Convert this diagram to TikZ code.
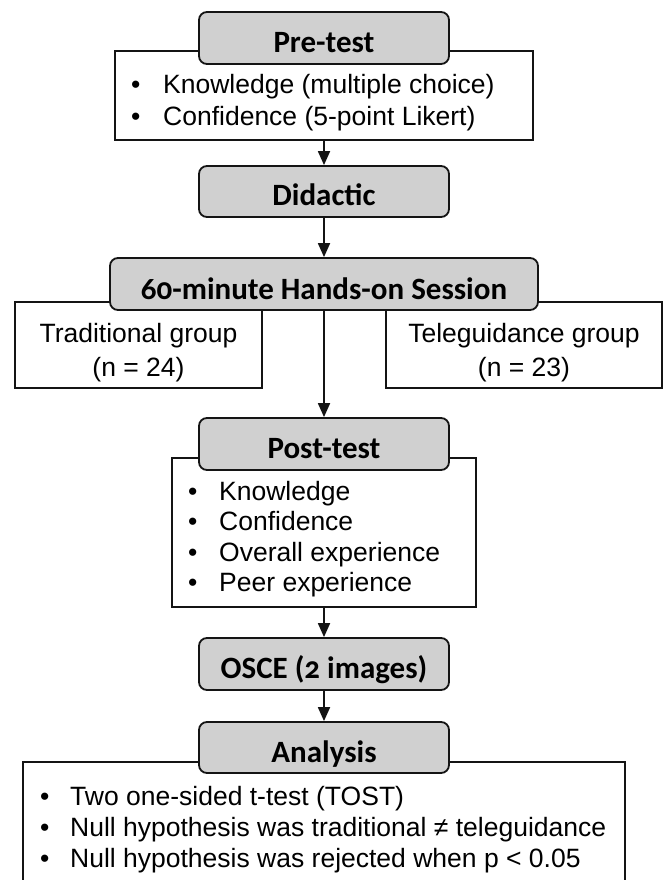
\documentclass[tikz,border=0pt]{standalone}
\usepackage{fontspec}
\setmainfont{Liberation Sans}
\newfontfamily\headfont[Numbers=OldStyle]{Carlito}
\usetikzlibrary{arrows.meta}
\definecolor{boxgray}{RGB}{208,208,208}
\definecolor{lineblack}{RGB}{20,20,20}
\begin{document}
\begin{tikzpicture}[x=1pt,y=-1pt,
  hbox/.style={draw=lineblack, line width=1.8pt, fill=boxgray, rounded corners=8pt, inner sep=0pt},
  wbox/.style={draw=lineblack, line width=1.8pt, fill=white, inner sep=0pt},
  head/.style={font=\headfont\bfseries\fontsize{31}{36}\selectfont, anchor=base, inner sep=0pt},
  body/.style={font=\fontsize{26.5}{31}\selectfont, anchor=base west, inner sep=0pt},
  ctext/.style={font=\fontsize{26.5}{31}\selectfont, anchor=base, inner sep=0pt},
  arr/.style={draw=lineblack, line width=1.8pt, -{Triangle[width=12pt,length=14pt]}}]
\clip (0,0) rectangle (665,880);
\fill[white] (0,0) rectangle (665,880);
% white boxes
\node[wbox, minimum width=418pt, minimum height=89pt] (prew) at (324,95.5) {};
\node[wbox, minimum width=247pt, minimum height=86pt] (trad) at (138.5,345) {};
\node[wbox, minimum width=276pt, minimum height=86pt] (tele) at (524,345) {};
\node[wbox, minimum width=304pt, minimum height=149pt] (postw) at (324,532.5) {};
\node[wbox, minimum width=602pt, minimum height=140pt] (anaw) at (324,832) {};
% gray boxes
\node[hbox, minimum width=250pt, minimum height=52pt] (pre) at (324,38) {};
\node[hbox, minimum width=250pt, minimum height=51pt] (did) at (324,191.5) {};
\node[hbox, minimum width=428pt, minimum height=52pt] (ses) at (324,284) {};
\node[hbox, minimum width=250pt, minimum height=52pt] (post) at (324,444) {};
\node[hbox, minimum width=250pt, minimum height=52pt] (osce) at (324,664) {};
\node[hbox, minimum width=250pt, minimum height=51pt] (ana) at (324,747.5) {};
% arrows
\draw[arr] (prew.south) -- (did.north);
\draw[arr] (did.south) -- (ses.north);
\draw[arr] (ses.south) -- (post.north);
\draw[arr] (postw.south) -- (osce.north);
\draw[arr] (osce.south) -- (ana.north);
% headings
\node[head] (pret) at (324,53) {Pre-test};
\node[head] (didt) at (324,205) {Didactic};
\node[head] (sest) at (324,299) {60-minute Hands-on Session};
\node[head] (postt) at (324,458) {Post-test};
\node[head] (oscet) at (324,678) {OSCE (2 images)};
\node[head] (anat) at (324,762) {Analysis};
% pre-test items
\node[body] (p1) at (131,94) {\makebox[32pt][l]{•}Knowledge (multiple choice)};
\node[body] (p2) at (131,125) {\makebox[32pt][l]{•}Confidence (5-point Likert)};
% groups
\node[ctext] (tr1) at (138.5,342) {Traditional group};
\node[ctext] (tr2) at (138.5,376) {(n = 24)};
\node[ctext] (te1) at (524,342) {Teleguidance group};
\node[ctext] (te2) at (524,376) {(n = 23)};
% post-test items
\node[body] (q1) at (188,500) {\makebox[31pt][l]{•}Knowledge};
\node[body] (q2) at (188,530) {\makebox[31pt][l]{•}Confidence};
\node[body] (q3) at (188,561) {\makebox[31pt][l]{•}Overall experience};
\node[body] (q4) at (188,591) {\makebox[31pt][l]{•}Peer experience};
% analysis items
\node[body] (a1) at (40,805) {\makebox[30pt][l]{•}Two one-sided t-test (TOST)};
\node[body] (a2) at (40,836) {\makebox[30pt][l]{•}Null hypothesis was traditional ≠ teleguidance};
\node[body] (a3) at (40,867) {\makebox[30pt][l]{•}Null hypothesis was rejected when p < 0.05};
\end{tikzpicture}
\end{document}
